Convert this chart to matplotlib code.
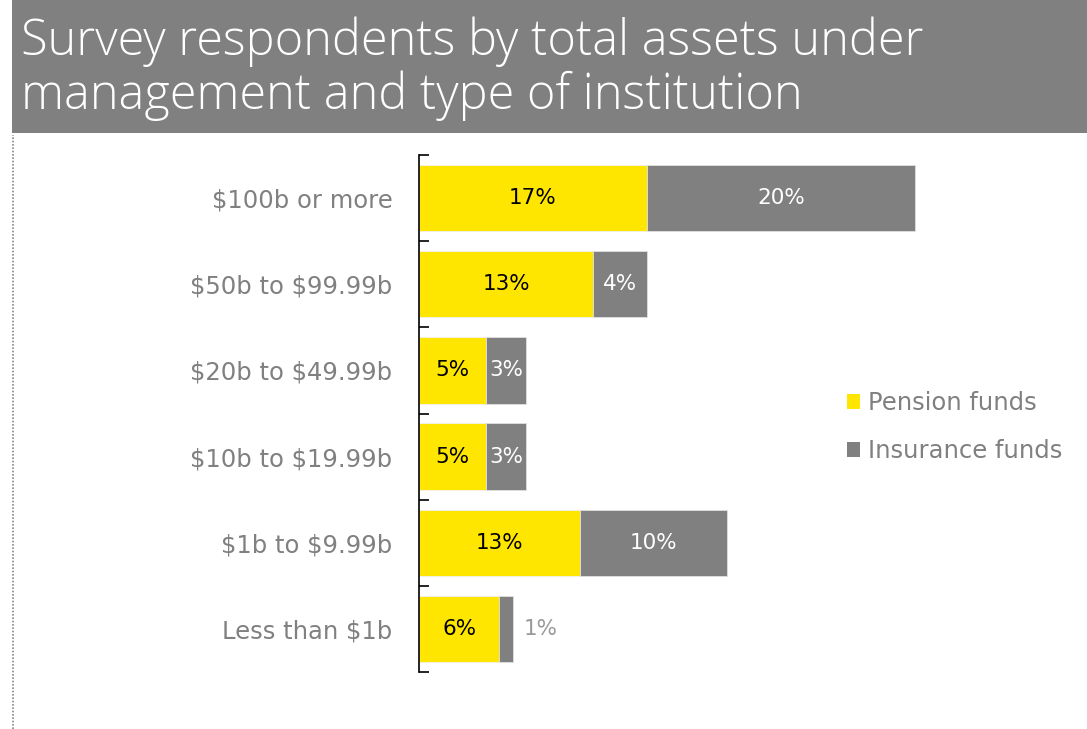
import matplotlib
matplotlib.use("Agg")
import matplotlib.pyplot as plt
from matplotlib.patches import Patch, Rectangle
from matplotlib.lines import Line2D
import numpy as np

plt.rcParams["text.parse_math"] = False

# ---- data ----
categories = ["$100b or more", "$50b to $99.99b", "$20b to $49.99b",
              "$10b to $19.99b", "$1b to $9.99b", "Less than $1b"]
pension = [17, 13, 5, 5, 12, 6]
insurance = [20, 4, 3, 3, 11, 1]
pension_labels = ["17%", "13%", "5%", "5%", "13%", "6%"]
insurance_labels = ["20%", "4%", "3%", "3%", "10%", "1%"]
series_names = ["Pension funds", "Insurance funds"]
title = "Survey respondents by total assets under\nmanagement and type of institution"

YELLOW = "#FFE600"
GREY = "#808080"
W, H = 1087, 729

fig = plt.figure(figsize=(W / 100, H / 100), dpi=100)

# title banner
fig.patches.append(Rectangle((12 / W, 1 - 133 / H), 1 - 12 / W, 133 / H,
                             transform=fig.transFigure, facecolor=GREY,
                             edgecolor="none", zorder=0))
fig.text(21 / W, 1 - 69 / H, title, color="white", fontsize=35,
         family="Open Sans", fontweight="light", va="center", ha="left",
         linespacing=1.1)
# dotted left border
fig.lines.append(Line2D([13 / W, 13 / W], [0, 1 - 135 / H], transform=fig.transFigure,
                        color="#888888", lw=1.2, ls=(0, (1, 1))))

ax_left, ax_right = 419, 1089
ax_top, ax_bot = 155, 672
ax = fig.add_axes([ax_left / W, 1 - ax_bot / H, (ax_right - ax_left) / W, (ax_bot - ax_top) / H])

y = np.arange(len(categories))
bh = 0.77
ax.barh(y, pension, height=bh, color=YELLOW, edgecolor="#f0f0f0", linewidth=0.6)
ax.barh(y, insurance, left=pension, height=bh, color=GREY, edgecolor="#e0e0e0", linewidth=0.6)

lab_font = dict(family="DejaVu Sans", fontsize=15.5)
for i in range(len(categories)):
    ax.text(pension[i] / 2, y[i], pension_labels[i], ha="center", va="center",
            color="black", **lab_font)
    if insurance[i] >= 2:
        ax.text(pension[i] + insurance[i] / 2, y[i], insurance_labels[i], ha="center",
                va="center", color="white", **lab_font)
    else:
        ax.annotate(insurance_labels[i], (pension[i] + insurance[i], y[i]),
                    xytext=(8, 0), textcoords="offset points", ha="left", va="center",
                    color="#999999", **lab_font)

ax.set_xlim(0, 50)
ax.set_ylim(len(categories) - 0.5, -0.5)
for s in ["top", "right", "bottom"]:
    ax.spines[s].set_visible(False)
ax.spines["left"].set_color("black")
ax.spines["left"].set_linewidth(1.2)
ax.set_xticks([])
ax.set_yticks(y)
ax.set_yticklabels(categories, color=GREY, fontsize=17.5, family="DejaVu Sans")
ax.tick_params(axis="y", which="major", length=0, pad=19)
ax.set_yticks(np.arange(-0.5, len(categories)), minor=True)
ax.tick_params(axis="y", which="minor", direction="in", length=7, width=1.2, color="black")

handles = [Patch(facecolor=YELLOW, edgecolor="none"), Patch(facecolor=GREY, edgecolor="none")]
leg = fig.legend(handles, series_names, loc="upper left",
                 bbox_to_anchor=(825 / W, 1 - 369 / H), frameon=False,
                 handlelength=0.55, handleheight=0.55, handletextpad=0.3,
                 labelspacing=1.0, prop=dict(family="DejaVu Sans", size=17.5))
for t in leg.get_texts():
    t.set_color(GREY)

fig.savefig("out.png", dpi=100)
